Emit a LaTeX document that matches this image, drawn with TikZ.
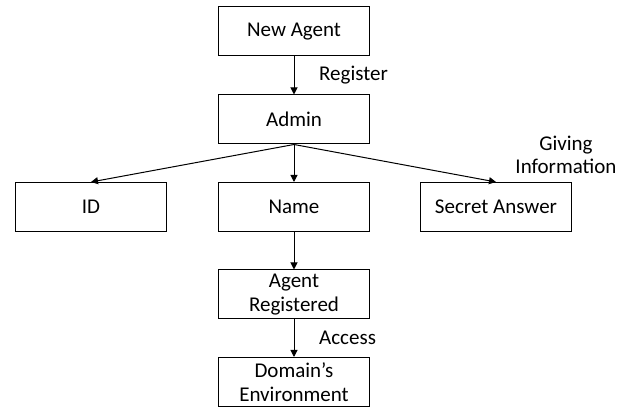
\documentclass[tikz,border=0pt]{standalone}
\usepackage{fontspec}
\setmainfont{Carlito}
\usetikzlibrary{arrows.meta,positioning}
\tikzset{
  block/.style={draw, line width=0.5pt, minimum width=75.5pt, minimum height=24.5pt,
    inner sep=0pt, align=center, font=\fontsize{10.5}{11.7}\selectfont},
  flow/.style={-{Triangle[length=3.5pt,width=3.5pt]}, line width=0.5pt},
  tag/.style={font=\fontsize{10.5}{11.7}\selectfont, align=center}
}

\begin{document}
\begin{tikzpicture}[x=0.5pt,y=-0.5pt]
  \useasboundingbox (0,0) rectangle (628,410);
  % boxes
  \node[block] (new) at (294,31.5) {New Agent};
  \node[block] (admin) at (294,119.5) {Admin};
  \node[block] (id) at (91,207) {ID};
  \node[block] (name) at (294,207) {Name};
  \node[block] (secret) at (496,207) {Secret Answer};
  \node[block] (registered) at (294,294.5) {Agent\\Registered};
  \node[block] (domain) at (294,382) {Domain’s\\Environment};
  \node[tag] (giving) at (566,155) {Giving\\Information};
  % arrows
  \draw[flow] (new) -- node[tag,right=9pt] {Register} (admin);
  \draw[flow] (admin.south) -- (id.north);
  \draw[flow] (admin.south) -- (name.north);
  \draw[flow] (admin.south) -- (secret.north);
  \draw[flow] (name) -- (registered);
  \draw[flow] (registered) -- node[tag,right=9pt] {Access} (domain);
\end{tikzpicture}
\end{document}
